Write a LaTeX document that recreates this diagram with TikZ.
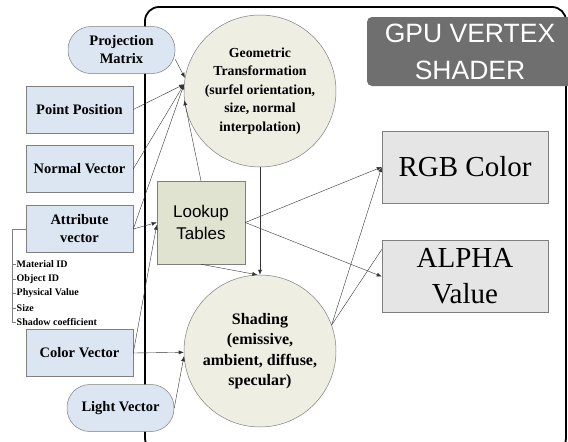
\documentclass[tikz,border=0pt]{standalone}
\usepackage{fontspec}
\setmainfont{Liberation Serif}
\newfontfamily\lsans{Liberation Sans}
\usepackage{xcolor}
\usepackage{tikz}
\usetikzlibrary{arrows.meta,positioning,calc}
\definecolor{infill}{HTML}{DCE6F2}
\definecolor{stagefill}{HTML}{EEEEE2}
\definecolor{lutfill}{HTML}{DFE3CF}
\definecolor{outfill}{HTML}{E5E5E5}
\definecolor{bannerfill}{HTML}{6F6F6F}
\definecolor{edgegray}{HTML}{7F7F7F}

\begin{document}
\begin{tikzpicture}[x=1pt, y=-1pt,
    inbox/.style={draw=edgegray, line width=0.5pt, fill=infill, minimum width=107pt, minimum height=47pt, inner sep=1pt, align=center, font=\fontsize{14.5}{18}\selectfont\bfseries},
    inpill/.style={inbox, rounded corners=23pt},
    stage/.style={circle, draw=edgegray, line width=0.5pt, fill=stagefill, minimum size=152pt, inner sep=0pt, align=center},
    lut/.style={draw=edgegray, line width=0.5pt, fill=lutfill, minimum width=88pt, minimum height=83pt, align=center, font=\lsans\fontsize{17}{22}\selectfont},
    outbox/.style={draw=edgegray, line width=0.5pt, fill=outfill, minimum width=166pt, minimum height=72pt, align=center, font=\fontsize{29}{36}\selectfont},
    banner/.style={fill=bannerfill, rounded corners=5pt, minimum width=206pt, minimum height=69pt, align=center, text=white, font=\lsans\fontsize{26.5}{37}\selectfont},
    item/.style={anchor=west, inner sep=1pt, font=\fontsize{10}{12}\selectfont\bfseries},
    arr/.style={-{Latex[length=5pt,width=4pt]}, line width=0.4pt, black!80}
]
\useasboundingbox (0,0) rectangle (568,442);
% shader frame
\draw[line width=1.8pt, rounded corners=14pt] (145,7) rectangle (566,452);

% inputs
\node[inpill] (proj) at (121.5,50) {Projection\\Matrix};
\node[inbox] (point) at (79.5,109.5) {Point Position};
\node[inbox] (normal) at (79.5,169) {Normal Vector};
\node[inbox] (attr) at (79.5,229) {Attribute\\vector};
\node[inbox] (color) at (79.5,353) {Color Vector};
\node[inpill] (light) at (120.5,408) {Light Vector};

% attribute fields
\node[item] (m1) at (15.5,264) {Material ID};
\node[item] (m2) at (15.5,279) {Object ID};
\node[item] (m3) at (15.5,293) {Physical Value};
\node[item] (m4) at (15.5,308) {Size};
\node[item] (m5) at (15.5,322) {Shadow coefficient};
\draw[edgegray, line width=0.5pt] (attr.west) -| (12,322) -- (m5.west);
\foreach \i in {1,...,4}
  \draw[edgegray, line width=0.5pt] (12,0 |- m\i.west) -- (m\i.west);

% shader stages
\node[stage, font=\fontsize{13.8}{18.5}\selectfont\bfseries] (geo) at (260,91) {Geometric\\Transformation\\(surfel orientation,\\size, normal\\interpolation)};
\node[stage, font=\fontsize{16}{20.5}\selectfont\bfseries] (shade) at (260,351) {Shading\\(emissive,\\ambient, diffuse,\\specular)};
\node[lut] (lookup) at (201,222.5) {Lookup\\Tables};
\node[banner] (gpu) at (470,51.5) {GPU VERTEX\\SHADER};

% outputs
\node[outbox] (rgb) at (465,167) {RGB Color};
\node[outbox] (alpha) at (465,276.5) {ALPHA\\Value};

% connections
\draw[arr] (proj.-10) -- (geo.170);
\draw[arr] (point.east) -- (geo.175);
\draw[arr] (normal.east) -- (geo.175);
\draw[arr] (attr.east) -- (geo.175);
\draw[arr] (lookup.north) -- (geo.187);
\draw[arr] (attr.east) -- (lookup.west);
\draw[arr] (color.east) -- (lookup.183);
\draw[arr] (color.east) -- (shade.181);
\draw[arr] (light.east) -- (shade.184);
\draw[arr] (geo.south) -- (shade.north);
\draw[arr] (lookup.south) -- (shade.92);
\draw[arr] (lookup.east) -- (rgb.west);
\draw[arr] (lookup.east) -- (alpha.west);
\draw[arr] (shade.20) -- (rgb.west);
\draw[line width=0.4pt, black!80] (shade.20) -- (alpha.162);
\end{tikzpicture}
\end{document}
